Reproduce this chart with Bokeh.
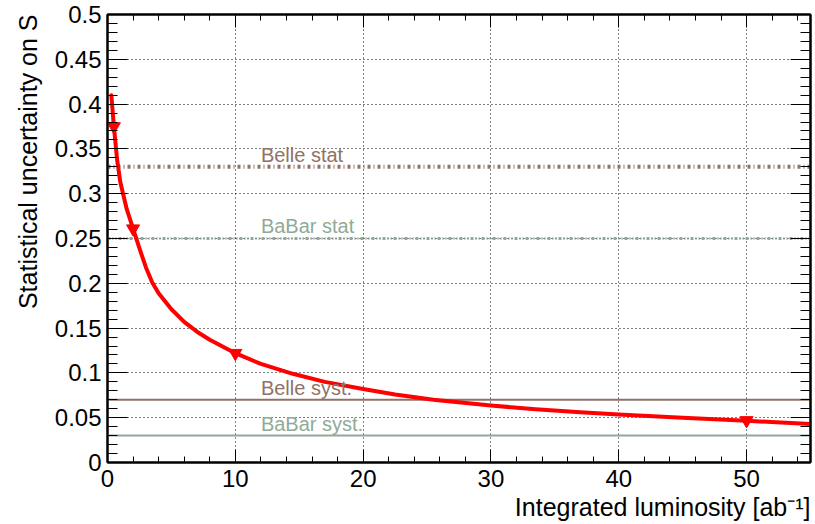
from bokeh.plotting import figure
from bokeh.models import (FixedTicker, LinearAxis, Label, CustomJSTickFormatter, Range1d, Title)
from bokeh.embed import file_html
from bokeh.resources import INLINE

# ---- data ----
lumi = [0.3, 0.5, 0.75, 1, 1.5, 2, 2.5, 3, 3.5, 4, 5, 6, 7, 8, 10, 12, 14.5,
        17, 20, 22.5, 25.5, 30, 33.5, 37, 40, 45, 50, 55]
sigma_s = [0.410, 0.375, 0.338, 0.313, 0.283, 0.261, 0.239, 0.218, 0.201, 0.189,
           0.171, 0.157, 0.146, 0.137, 0.122, 0.110, 0.099, 0.090, 0.082, 0.076,
           0.070, 0.0635, 0.0595, 0.056, 0.0535, 0.050, 0.0465, 0.043]

marker_lumi = [0.5, 2, 10, 50]
marker_sigma = [0.375, 0.261, 0.122, 0.047]

ref_names = ["Belle stat", "BaBar stat", "Belle syst.", "BaBar syst."]
ref_values = [0.33, 0.25, 0.07, 0.03]

x_ticks = [0, 10, 20, 30, 40, 50]
y_ticks = [0, 0.05, 0.1, 0.15, 0.2, 0.25, 0.3, 0.35, 0.4, 0.45, 0.5]

x_title = "Integrated luminosity [ab\u207b\u00b9]"
y_title = "Statistical uncertainty on S"

X_MIN, X_MAX = 0, 55
Y_MIN, Y_MAX = 0, 0.5

BELLE = "#8f7266"
BABAR = "#8faa98"
FONT = "Liberation Sans"

p = figure(width=815, height=522, frame_width=703, frame_height=448,
           min_border_left=107, min_border_top=14, min_border_right=5, min_border_bottom=60,
           x_range=Range1d(X_MIN, X_MAX), y_range=Range1d(Y_MIN, Y_MAX),
           output_backend="svg", toolbar_location=None)
p.background_fill_color = "white"
p.border_fill_color = "white"
p.outline_line_color = "black"
p.outline_line_width = 2

xminor = [v for v in range(0, 56, 2)]
yminor = [round(0.01 * i, 2) for i in range(0, 51)]
xt = FixedTicker(ticks=x_ticks, minor_ticks=xminor)
yt = FixedTicker(ticks=y_ticks, minor_ticks=yminor)
fmt = CustomJSTickFormatter(code="return String(Math.round(tick*100)/100);")

for ax, tk in ((p.xaxis[0], xt), (p.yaxis[0], yt)):
    ax.ticker = tk
    ax.formatter = fmt
    ax.axis_line_width = 2
    ax.major_tick_out = 0
    ax.minor_tick_out = 0
    ax.major_tick_line_width = 1
    ax.minor_tick_line_width = 1
    ax.major_label_text_font = FONT
    ax.major_label_text_font_size = "24px"
    ax.major_label_text_color = "black"
    ax.axis_label = None

p.xaxis[0].major_tick_in = 13
p.xaxis[0].minor_tick_in = 6
p.xaxis[0].major_label_standoff = 7
p.yaxis[0].major_tick_in = 20
p.yaxis[0].minor_tick_in = 10
p.yaxis[0].major_label_standoff = 6

# mirrored ticks on top and right
top = LinearAxis(ticker=FixedTicker(ticks=x_ticks, minor_ticks=xminor))
right = LinearAxis(ticker=FixedTicker(ticks=y_ticks, minor_ticks=yminor))
for ax, maj, mn in ((top, 13, 6), (right, 20, 10)):
    ax.major_tick_in = maj
    ax.minor_tick_in = mn
    ax.major_tick_out = 0
    ax.minor_tick_out = 0
    ax.axis_line_width = 2
    ax.major_label_text_font_size = "1px"
    ax.major_label_text_alpha = 0
    ax.major_label_standoff = 0
p.add_layout(top, "above")
p.add_layout(right, "right")

# axis titles, aligned to the end of each axis
p.add_layout(Title(text=x_title, align="right", text_font=FONT, text_font_size="25px",
                   text_font_style="normal", text_color="black", standoff=3), "below")
p.add_layout(Title(text=y_title, align="right", text_font=FONT, text_font_size="25px",
                   text_font_style="normal", text_color="black", standoff=20), "left")

for g in (p.xgrid[0], p.ygrid[0]):
    g.grid_line_color = "black"
    g.grid_line_dash = "1 3"
    g.grid_line_width = 1
p.xgrid[0].ticker = xt
p.ygrid[0].ticker = yt

# reference lines
styles = [dict(color=BELLE, width=4, dash="3 3 1 3"),
          dict(color=BABAR, width=3, dash="3 2 1 2 1 2"),
          dict(color=BELLE, width=2, dash="solid"),
          dict(color=BABAR, width=2, dash="solid")]
for name, val, st in zip(ref_names, ref_values, styles):
    p.line([X_MIN, X_MAX], [val, val], line_color=st["color"], line_width=st["width"],
           line_dash=st["dash"])

label_offsets = [0.0135, 0.0135, 0.0128, 0.0129]
for name, val, st, off in zip(ref_names, ref_values, styles, label_offsets):
    p.add_layout(Label(x=12.0, y=val + off, text=name, text_color=st["color"],
                       text_font=FONT, text_font_size="20px",
                       text_baseline="alphabetic", text_align="left"))

# projection curve
p.line(lumi, sigma_s, line_color="red", line_width=4, line_cap="round", line_join="round")
p.scatter(marker_lumi, marker_sigma, marker="inverted_triangle", size=13,
          fill_color="red", line_color="red")

open("out.html", "w").write(file_html(p, INLINE))
